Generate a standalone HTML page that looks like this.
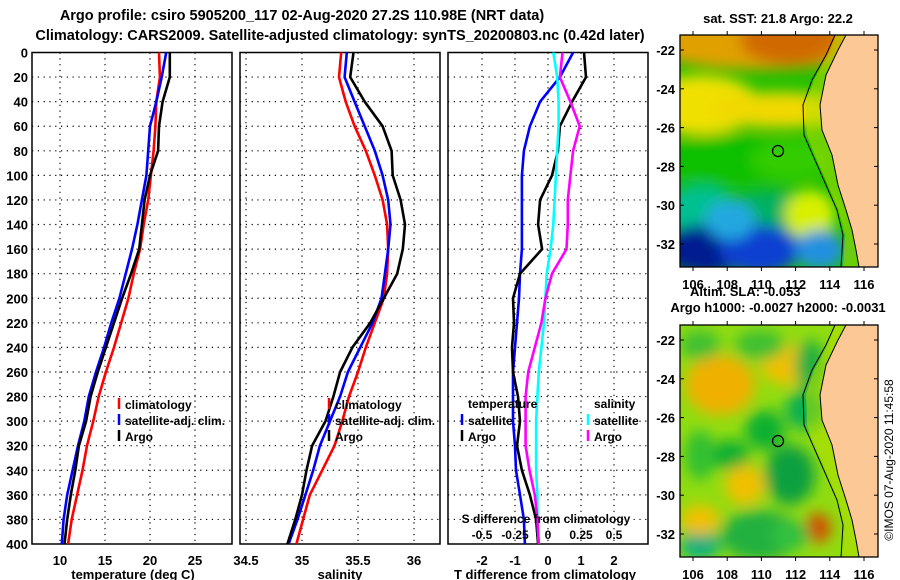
<!DOCTYPE html>
<html><head><meta charset="utf-8"><style>
html,body{margin:0;padding:0;background:#fff}
svg{display:block;font-family:"Liberation Sans",sans-serif;font-weight:bold}
</style></head><body>
<svg id="chart" width="900" height="580" viewBox="0 0 900 580" xmlns="http://www.w3.org/2000/svg">
<defs>
<filter id="blur6" x="-50%" y="-50%" width="200%" height="200%"><feGaussianBlur stdDeviation="7"/></filter>
<clipPath id="clipTop"><rect x="680" y="35" width="198" height="232"/></clipPath>
<clipPath id="clipBot"><rect x="680" y="325" width="198" height="232"/></clipPath>
</defs>
<text x="302" y="20" font-size="14.5" text-anchor="middle">Argo profile: csiro 5905200_117 02-Aug-2020 27.2S 110.98E (NRT data)</text>
<text x="340" y="40" font-size="14.5" text-anchor="middle">Climatology: CARS2009. Satellite-adjusted climatology: synTS_20200803.nc (0.42d later)</text>
<g id="plots"></g>
<g id="maps"></g>
</svg>
<script>
const depths = [0,20,40,60,80,100,120,140,160,180,200,220,240,260,280,300,320,340,360,380,400];
const depthTicks = [0,20,40,60,80,100,120,140,160,180,200,220,240,260,280,300,320,340,360,380,400];
const tempClim = [21.0,21.1,20.7,20.6,20.4,20.1,19.8,19.3,18.9,18.2,17.6,16.8,16.0,15.1,14.3,13.7,13.0,12.5,11.9,11.3,10.9];
const tempSat  = [21.8,21.3,20.7,20.0,19.8,19.6,19.1,18.6,18.0,17.3,16.6,15.7,14.9,14.0,13.2,12.7,12.0,11.4,10.8,10.4,10.2];
const tempArgo = [22.2,22.2,21.4,21.0,20.9,20.0,19.4,19.1,18.8,17.9,16.9,16.0,15.1,14.2,13.4,12.9,12.1,11.7,11.2,10.8,10.5];
const salClim = [35.35,35.33,35.39,35.47,35.57,35.65,35.72,35.76,35.77,35.76,35.73,35.65,35.57,35.50,35.42,35.36,35.29,35.18,35.07,35.01,34.95];
const salSat  = [35.40,35.38,35.47,35.56,35.65,35.72,35.77,35.79,35.77,35.74,35.71,35.63,35.52,35.41,35.34,35.25,35.16,35.10,35.03,34.96,34.88];
const salArgo = [35.46,35.43,35.56,35.72,35.80,35.81,35.88,35.92,35.90,35.85,35.73,35.61,35.45,35.34,35.28,35.21,35.09,35.04,35.00,34.94,34.87];
const dTSat  = [0.76,0.36,-0.24,-0.55,-0.73,-0.79,-0.79,-0.79,-0.79,-0.85,-0.88,-0.94,-1.0,-1.06,-1.06,-1.06,-1.0,-0.97,-0.85,-0.73,-0.70];
const dTArgo = [1.09,1.15,0.73,0.36,0.30,0.12,-0.24,-0.30,-0.18,-0.85,-1.06,-1.03,-1.09,-1.06,-0.91,-0.85,-0.94,-0.79,-0.55,-0.36,-0.30];
const dSSat  = [0.04,0.07,0.08,0.08,0.07,0.06,0.05,0.04,0.02,-0.01,-0.02,-0.03,-0.05,-0.07,-0.08,-0.09,-0.09,-0.09,-0.08,-0.08,-0.07];
const dSArgo = [0.11,0.09,0.17,0.24,0.19,0.17,0.15,0.15,0.14,0.03,-0.02,-0.05,-0.10,-0.15,-0.17,-0.17,-0.17,-0.14,-0.10,-0.08,-0.07];
const tempTicks = [10,15,20,25];
const salTicks = [34.5,35,35.5,36];
const salTickLabels = ["34.5","35","35.5","36"];
const dTTicks = [-2,-1,0,1,2];
const dSTicks = [-0.5,-0.25,0,0.25,0.5];
const dSTickLabels = ["-0.5","-0.25","0","0.25","0.5"];
const latTicks = [-22,-24,-26,-28,-30,-32];
const lonTicks = [106,108,110,112,114,116];

const NS="http://www.w3.org/2000/svg";
const plots=document.getElementById('plots');
function mk(tag,attrs,parent){const e=document.createElementNS(NS,tag);for(const k in attrs)e.setAttribute(k,attrs[k]);(parent||plots).appendChild(e);return e;}
const yTop=52.5, yBot=544;
function yD(d){return yTop+(d/400)*(yBot-yTop);}

function panel(id,x0,x1,xScale,xt,xtl){
  const g=mk('g',{});
  
  
  depthTicks.forEach(d=>{ if(d>0&&d<400){const l=mk('line',{x1:x0,x2:x1,y1:yD(d),y2:yD(d),stroke:'#000','stroke-width':1.2,'stroke-dasharray':'1.2 4.6'},g);
    }});
  xt.forEach(v=>{const x=xScale(v);const l=mk('line',{x1:x,x2:x,y1:yTop,y2:yBot,stroke:'#000','stroke-width':1.2,'stroke-dasharray':'1.2 4.6'},g);
    });
  const r=mk('rect',{x:x0,y:yTop,width:x1-x0,height:yBot-yTop,fill:'none',stroke:'#000','stroke-width':1.5},g);
  
  if(xtl){xt.forEach((v,i)=>{const t=mk('text',{x:xScale(v),y:565,'font-size':13,'text-anchor':'middle'},g);t.textContent=xtl[i];
    });}
  return g;
}
function series(g,xs,xScale,color,name){
  let pts=[];
  for(let i=0;i<depths.length;i++){pts.push(xScale(xs[i]).toFixed(1)+','+yD(depths[i]).toFixed(1));}
  const p=mk('polyline',{points:pts.join(' '),fill:'none',stroke:color,'stroke-width':2.6,'stroke-linejoin':'round'},g);
  
  
}
function legend(g,x,y,color,label,name){
  const b=mk('line',{x1:x,x2:x,y1:y-11,y2:y,stroke:color,'stroke-width':2.5},g);
  
  const t=mk('text',{x:x+6,y:y,'font-size':12},g);t.textContent=label;
  
}
function txt(g,x,y,s,anchor,size,name){const t=mk('text',{x:x,y:y,'font-size':size||13,'text-anchor':anchor||'start'},g);t.textContent=s;
  return t;}

// Panel 1: temperature
const xT=v=>60+(v-10)*9;
const g1=panel('temperature-panel',32,232,xT,tempTicks,tempTicks.map(String));
depthTicks.forEach(d=>{const t=mk('text',{x:28,y:yD(d)+5,'font-size':13,'text-anchor':'end'},g1);t.textContent=d;
  });
series(g1,tempClim,xT,'#ff0000','temp-climatology-line');
series(g1,tempSat,xT,'#0000ff','temp-satellite-line');
series(g1,tempArgo,xT,'#000000','temp-argo-line');
legend(g1,119,409,'#ff0000','climatology','legend-climatology');
legend(g1,119,425,'#0000ff','satellite-adj. clim.','legend-satellite');
legend(g1,119,441,'#000000','Argo','legend-argo');
txt(g1,133,579,'temperature (deg C)','middle',13,'x-axis-title-temperature');

// Panel 2: salinity
const xS=v=>302+(v-35)*112;
const g2=panel('salinity-panel',240,440,xS,salTicks,salTickLabels);
series(g2,salClim,xS,'#ff0000','sal-climatology-line');
series(g2,salSat,xS,'#0000ff','sal-satellite-line');
series(g2,salArgo,xS,'#000000','sal-argo-line');
legend(g2,329,409,'#ff0000','climatology','legend-climatology');
legend(g2,329,425,'#0000ff','satellite-adj. clim.','legend-satellite');
legend(g2,329,441,'#000000','Argo','legend-argo');
txt(g2,340,579,'salinity','middle',13,'x-axis-title-salinity');

// Panel 3: differences
const xdT=v=>548+v*33;
const xdS=v=>548+v*132;
const g3=panel('difference-panel',448,648,xdT,dTTicks,dTTicks.map(String));
series(g3,dTSat,xdT,'#0000ff','dT-satellite-line');
series(g3,dTArgo,xdT,'#000000','dT-argo-line');
series(g3,dSSat,xdS,'#00ffff','dS-satellite-line');
series(g3,dSArgo,xdS,'#ff00ff','dS-argo-line');
txt(g3,468,408,'temperature','start',12,'legend-temperature-heading');
legend(g3,462,425,'#0000ff','satellite','legend-t-satellite');
legend(g3,462,441,'#000000','Argo','legend-t-argo');
txt(g3,594,408,'salinity','start',12,'legend-salinity-heading');
legend(g3,588,425,'#00ffff','satellite','legend-s-satellite');
legend(g3,588,441,'#ff00ff','Argo','legend-s-argo');
txt(g3,546,523,'S difference from climatology','middle',12,'s-axis-title');
dSTicks.forEach((v,i)=>{txt(g3,xdS(v),539,dSTickLabels[i],'middle',12,'s-tick-label');});
txt(g3,545,579,'T difference from climatology','middle',13,'x-axis-title-difference');

// Maps
const maps=document.getElementById('maps');
function mm(tag,attrs,parent){const e=document.createElementNS(NS,tag);for(const k in attrs)e.setAttribute(k,attrs[k]);(parent||maps).appendChild(e);return e;}
const lonX=v=>693+(v-106)*17.1;
function mapFrame(top,clip,name,blobs,base){
  const latY=v=>top+15+(-22-v)*19.4;
  const g=mm('g',{});
  
  const c=mm('g',{'clip-path':'url(#'+clip+')'},g);
  mm('rect',{x:680,y:top,width:198,height:232,fill:base},c);
  const bl=mm('g',{filter:'url(#blur6)'},c);
  blobs.forEach(b=>{mm('ellipse',{cx:b[0],cy:top+b[1],rx:b[2],ry:b[3],fill:b[4]},bl);});
  const shelf=[[836,0],[828,20],[814,45],[806,70],[807,100],[817,125],[828,150],[839,175],[845,200],[843,232],[860,232],[860,0]];
  mm('polygon',{points:shelf.map(p=>p[0]+','+(p[1]+top)).join(' '),fill:'#b8e000','fill-opacity':0.5},c);
  const land=[[846,0],[838,15],[826,40],[820,70],[822,95],[832,120],[838,150],[846,175],[852,195],[856,215],[859,232],[900,232],[900,0]];
  const lp=mm('polygon',{points:land.map(p=>p[0]+','+(p[1]+top)).join(' '),fill:'#fcc896',stroke:'#000','stroke-width':1},c);
  
  const iso=[[835,0],[826,20],[812,45],[803,70],[804,100],[815,125],[826,150],[837,175],[843,200],[841,232]];
  const il=mm('polyline',{points:iso.map(p=>p[0]+','+(p[1]+top)).join(' '),fill:'none',stroke:'#000','stroke-width':1},c);
  
  const m=mm('circle',{cx:778,cy:top+116,r:5.5,fill:'none',stroke:'#000','stroke-width':1.3},g);
  
  const fr=mm('rect',{x:680,y:top,width:198,height:232,fill:'none',stroke:'#000','stroke-width':1.3},g);
  
  latTicks.forEach(v=>{const y=latY(v);
    mm('line',{x1:680,x2:684,y1:y,y2:y,stroke:'#000'},g);mm('line',{x1:874,x2:878,y1:y,y2:y,stroke:'#000'},g);
    const t=mm('text',{x:675,y:y+5,'font-size':13,'text-anchor':'end'},g);t.textContent=v;
    });
  lonTicks.forEach(v=>{const x=lonX(v);
    mm('line',{x1:x,x2:x,y1:top,y2:top-4,stroke:'#000'},g);mm('line',{x1:x,x2:x,y1:top+232,y2:top+236,stroke:'#000'},g);
    const t=mm('text',{x:x,y:top+254,'font-size':13,'text-anchor':'middle'},g);t.textContent=v;
    });
}
const sstBlobs=[[760,5,120,30,'#e0a000'],[790,5,50,25,'#d06a00'],[700,70,60,30,'#f0e000'],[780,75,70,18,'#f0d800'],
 [730,125,70,25,'#10c000'],[790,125,40,20,'#30cc00'],[700,175,40,25,'#00c090'],[770,185,50,30,'#00b060'],
 [810,180,25,25,'#d8f000'],[705,215,45,25,'#001a90'],[760,215,40,25,'#1040d0'],[820,215,25,20,'#2090e0'],[730,185,25,20,'#20a8e0']];
mapFrame(35,'clipTop','sst-map',sstBlobs,'#20c000');
const slaBlobs=[[720,60,35,30,'#f0b000'],[790,40,30,20,'#f0c000'],[765,105,20,20,'#10b030'],[730,130,20,15,'#10b030'],
 [790,150,25,30,'#10a040'],[745,160,20,20,'#f0c000'],[778,203,15,15,'#d05000'],[818,203,13,15,'#d05000'],
 [760,210,40,25,'#20b040'],[700,220,20,15,'#10b080'],[805,85,20,20,'#10b050'],[700,195,20,15,'#f0c000'],
 [700,130,15,25,'#30c030'],[760,20,25,15,'#40c030'],[810,40,15,25,'#20b040'],[790,210,20,15,'#30c040'],[700,20,20,15,'#40c030']];
mapFrame(325,'clipBot','sla-map',slaBlobs,'#90dc10');

function mt(x,y,s,anchor,name){const t=mm('text',{x:x,y:y,'font-size':13,'text-anchor':anchor});t.textContent=s;
  }
mt(778,23,'sat. SST: 21.8 Argo: 22.2','middle','sst-map-title');
mt(690,296,'Altim. SLA: -0.053','start','sla-value');
mt(778,312,'Argo h1000: -0.0027 h2000: -0.0031','middle','sla-map-title');
const cr=mm('text',{x:0,y:0,'font-size':12,'font-weight':'normal','text-anchor':'middle',transform:'translate(893,460) rotate(-90)'});
cr.textContent='©IMOS 07-Aug-2020 11:45:58';

</script>
</body></html>
